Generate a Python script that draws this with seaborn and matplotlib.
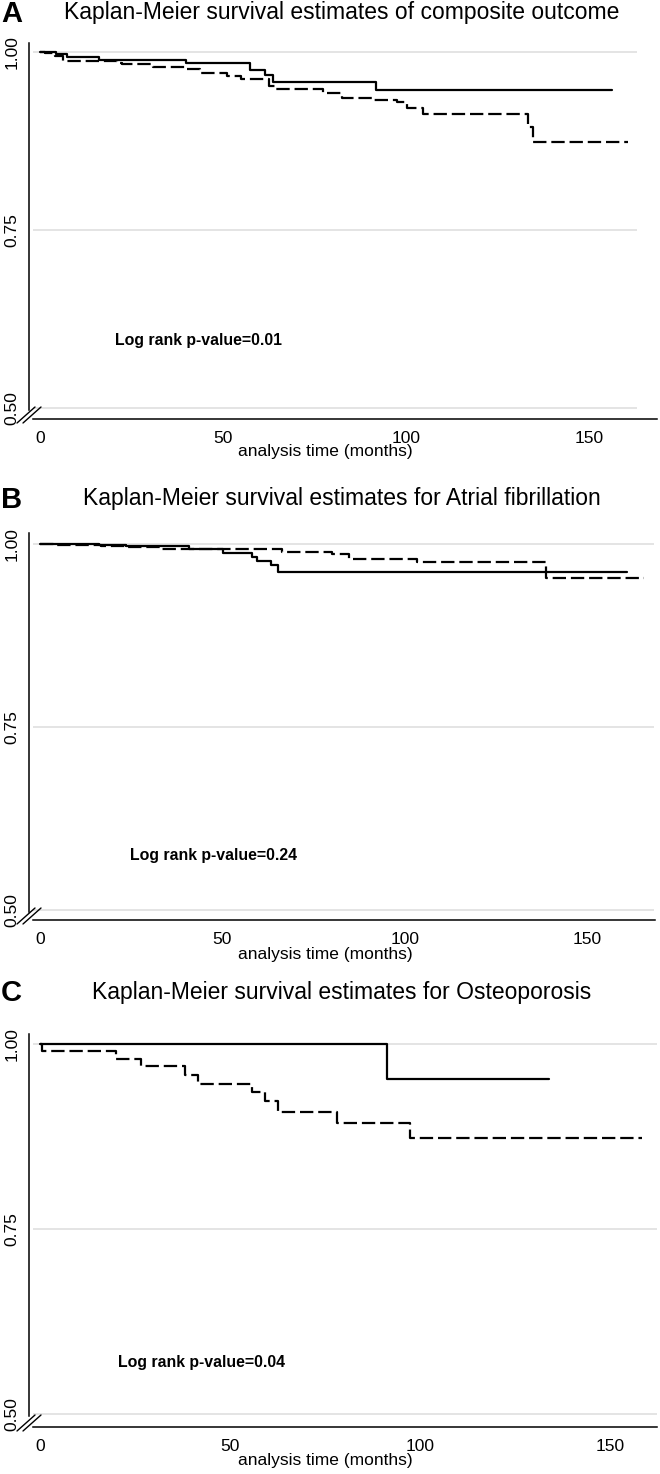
import numpy as np
import pandas as pd
import matplotlib
matplotlib.use("Agg")
import matplotlib.pyplot as plt
import seaborn as sns
from matplotlib.lines import Line2D

sns.set_theme(style="white")
plt.rcParams['font.family'] = ['Liberation Sans', 'DejaVu Sans']

# ---------------- data (time in months, survival probability) ----------------
titles = ["Kaplan-Meier survival estimates of composite outcome",
          "Kaplan-Meier survival estimates for Atrial fibrillation",
          "Kaplan-Meier survival estimates for Osteoporosis"]
panel_letters = ["A", "B", "C"]
pvalue_texts = ["Log rank p-value=0.01", "Log rank p-value=0.24", "Log rank p-value=0.04"]
x_ticks = [0, 50, 100, 150]
y_ticks = [0.50, 0.75, 1.00]
y_ticklabels = ["0.50", "0.75", "1.00"]
x_label = "analysis time (months)"

a_solid_t = [0, 4.5, 7.5, 16, 40, 57.5, 61.5, 63.8, 91.8, 156.3]
a_solid_s = [1.0, 0.997, 0.9935, 0.989, 0.985, 0.975, 0.968, 0.958, 0.947, 0.947]
a_dash_t = [0, 1.5, 4, 6.3, 21, 22.5, 31, 39.7, 43.7, 51, 55, 62.7, 64.4, 77.4,
            82.4, 91, 97.5, 100.2, 104.7, 133.4, 134.8, 160.7]
a_dash_s = [1.0, 0.998, 0.994, 0.988, 0.984, 0.983, 0.979, 0.976, 0.970, 0.966,
            0.962, 0.952, 0.948, 0.943, 0.936, 0.933, 0.930, 0.921, 0.913, 0.894,
            0.874, 0.874]

b_solid_t = [0, 16.2, 23.6, 40.8, 50.1, 58.2, 59.4, 63.4, 65.2, 160.8]
b_solid_s = [1.0, 0.9986, 0.997, 0.993, 0.988, 0.982, 0.977, 0.971, 0.962, 0.962]
b_dash_t = [0, 4.0, 16.7, 23.6, 32.9, 66.3, 80.1, 84.7, 103.2, 138.6, 165.5]
b_dash_s = [1.0, 0.9986, 0.997, 0.9955, 0.993, 0.989, 0.986, 0.980, 0.976, 0.953, 0.953]

c_solid_t = [0, 91.4, 134.0]
c_solid_s = [1.0, 0.953, 0.953]
c_dash_t = [0, 0.45, 19.9, 26.6, 38.2, 41.5, 55.9, 59.2, 62.6, 78.1, 97.4, 158.4]
c_dash_s = [1.0, 0.9917, 0.981, 0.971, 0.959, 0.947, 0.936, 0.923, 0.909, 0.894,
            0.873, 0.873]

# ---------------- layout (pixels in a 660 x 1474 canvas) ----------------
W, H = 660, 1474
fig = plt.figure(figsize=(W / 100, H / 100), dpi=100)
fig.patch.set_facecolor("white")

panels = [
    dict(box=(29, 43, 657, 419), xlim=(-3.0, 168.6), ylim=(0.4846, 1.0126),
         grid_x=(-1.9, 163.1), title_y=13, solid=(a_solid_t, a_solid_s),
         dash=(a_dash_t, a_dash_s), ptext=(20.5, 0.5955), xlab_y=452),
    dict(box=(29, 533, 655, 920), xlim=(-3.0, 168.5), ylim=(0.4863, 1.015),
         grid_x=(-1.9, 168.2), title_y=499, solid=(b_solid_t, b_solid_s),
         dash=(b_dash_t, b_dash_s), ptext=(24.7, 0.575), xlab_y=954),
    dict(box=(29, 1034, 657, 1427), xlim=(-2.9, 162.4), ylim=(0.4824, 1.0142),
         grid_x=(-1.8, 162.4), title_y=992, solid=(c_solid_t, c_solid_s),
         dash=(c_dash_t, c_dash_s), ptext=(20.6, 0.57), xlab_y=1461),
]

def fx(px):
    return px / W

def fy(py):
    return 1 - py / H

for i, p in enumerate(panels):
    l, t, r, b = p["box"]
    ax = fig.add_axes([fx(l), fy(b), (r - l) / W, (b - t) / H])
    ax.set_facecolor("white")
    ax.set_xlim(*p["xlim"])
    ax.set_ylim(*p["ylim"])

    # grid lines
    ax.hlines(y_ticks, p["grid_x"][0], p["grid_x"][1], colors="#dcdcdc",
              linewidth=1.1, zorder=0)

    # survival curves
    st, ss = p["solid"]
    dt, ds = p["dash"]
    df_s = pd.DataFrame({"time": st, "surv": ss})
    df_d = pd.DataFrame({"time": dt, "surv": ds})
    sns.lineplot(data=df_s, x="time", y="surv", ax=ax, color="black",
                 linewidth=1.6, drawstyle="steps-post", estimator=None,
                 linestyle="-", zorder=3)
    sns.lineplot(data=df_d, x="time", y="surv", ax=ax, color="black",
                 linewidth=1.6, drawstyle="steps-post", estimator=None,
                 linestyle=(0, (6, 2.2)), zorder=3)

    # axes styling
    for s in ["top", "right"]:
        ax.spines[s].set_visible(False)
    for s in ["left", "bottom"]:
        ax.spines[s].set_color("black")
        ax.spines[s].set_linewidth(1.1)
    y0, y1 = p["ylim"]
    ax.spines["left"].set_bounds(0.497, y1)
    ax.spines["bottom"].set_bounds(p["grid_x"][0], p["xlim"][1])

    ax.set_xticks(x_ticks)
    ax.set_xticklabels([str(v) for v in x_ticks], fontsize=12.5)
    ax.set_yticks(y_ticks)
    ax.set_yticklabels(y_ticklabels, fontsize=12.5, rotation=90, va="center")
    ax.tick_params(axis="both", direction="out", length=5, width=1.0,
                   color="black", labelcolor="black")
    ax.tick_params(axis="x", pad=3.5)
    ax.tick_params(axis="y", pad=2)
    ax.set_xlabel("")
    ax.set_ylabel("")

    # p-value annotation
    ax.text(p["ptext"][0], p["ptext"][1], pvalue_texts[i], fontsize=11.4,
            fontweight="bold", ha="left", va="center", color="black")

    # x label
    fig.text(fx(325), fy(p["xlab_y"]), x_label, fontsize=12.5, ha="center",
             va="center", color="black")

    # titles and panel letters
    fig.text(fx(342), fy(p["title_y"]), titles[i], fontsize=16.5, ha="center",
             va="center", color="black")
    fig.text(fx(1), fy(p["title_y"] + 1), panel_letters[i], fontsize=21,
             fontweight="bold", ha="left", va="center", color="black")

    # axis-break marks at the lower-left corner
    for off in (0, 6):
        fig.add_artist(Line2D([fx(17 + off), fx(35 + off)],
                              [fy(b + 4), fy(b - 12)], color="black",
                              linewidth=1.0))

fig.savefig("out.png", dpi=100, facecolor="white")
